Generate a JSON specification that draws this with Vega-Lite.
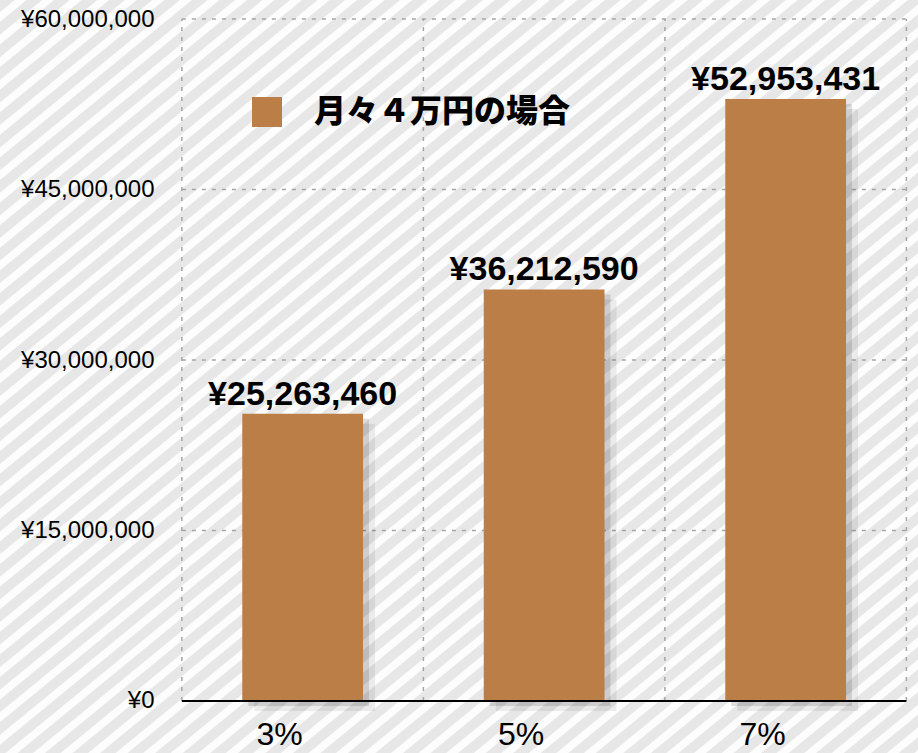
{
  "$schema": "https://vega.github.io/schema/vega-lite/v6.json",
  "width": 918,
  "height": 753,
  "autosize": {"type": "none"},
  "padding": 0,
  "background": "#f1f1f1",
  "config": {
    "view": {"stroke": null},
    "font": "Liberation Sans",
    "locale": {"number": {"decimal": ".", "thousands": ",", "grouping": [3], "currency": ["¥", ""]}}
  },
  "datasets": {
    "main": [
      {"rate": "3%", "amount": 25263460, "series": "月々４万円の場合"},
      {"rate": "5%", "amount": 36212590, "series": "月々４万円の場合"},
      {"rate": "7%", "amount": 52953431, "series": "月々４万円の場合"}
    ],
    "hgrid": [{"g": 15000000}, {"g": 30000000}, {"g": 45000000}, {"g": 60000000}]
  },
  "layer": [
    {
      "data": {"values": [{}]},
      "mark": {
        "type": "rect",
        "fill": {
          "gradient": "linear", "x1": 0, "y1": 0, "x2": 1, "y2": 1,
          "stops": [
{"offset":0,"color":"#e7e7e7"},{"offset":0.0075,"color":"#e7e7e7"},{"offset":0.0085,"color":"#fdfdfd"},{"offset":0.014,"color":"#fdfdfd"},
{"offset":0.015,"color":"#e7e7e7"},{"offset":0.0225,"color":"#e7e7e7"},{"offset":0.0235,"color":"#fdfdfd"},{"offset":0.029,"color":"#fdfdfd"},
{"offset":0.03,"color":"#e7e7e7"},{"offset":0.0375,"color":"#e7e7e7"},{"offset":0.0385,"color":"#fdfdfd"},{"offset":0.044,"color":"#fdfdfd"},
{"offset":0.045,"color":"#e7e7e7"},{"offset":0.0525,"color":"#e7e7e7"},{"offset":0.0535,"color":"#fdfdfd"},{"offset":0.059,"color":"#fdfdfd"},
{"offset":0.06,"color":"#e7e7e7"},{"offset":0.0675,"color":"#e7e7e7"},{"offset":0.0685,"color":"#fdfdfd"},{"offset":0.074,"color":"#fdfdfd"},
{"offset":0.075,"color":"#e7e7e7"},{"offset":0.0825,"color":"#e7e7e7"},{"offset":0.0835,"color":"#fdfdfd"},{"offset":0.089,"color":"#fdfdfd"},
{"offset":0.09,"color":"#e7e7e7"},{"offset":0.0975,"color":"#e7e7e7"},{"offset":0.0985,"color":"#fdfdfd"},{"offset":0.104,"color":"#fdfdfd"},
{"offset":0.105,"color":"#e7e7e7"},{"offset":0.1125,"color":"#e7e7e7"},{"offset":0.1135,"color":"#fdfdfd"},{"offset":0.119,"color":"#fdfdfd"},
{"offset":0.12,"color":"#e7e7e7"},{"offset":0.1275,"color":"#e7e7e7"},{"offset":0.1285,"color":"#fdfdfd"},{"offset":0.134,"color":"#fdfdfd"},
{"offset":0.135,"color":"#e7e7e7"},{"offset":0.1425,"color":"#e7e7e7"},{"offset":0.1435,"color":"#fdfdfd"},{"offset":0.149,"color":"#fdfdfd"},
{"offset":0.15,"color":"#e7e7e7"},{"offset":0.1575,"color":"#e7e7e7"},{"offset":0.1585,"color":"#fdfdfd"},{"offset":0.164,"color":"#fdfdfd"},
{"offset":0.165,"color":"#e7e7e7"},{"offset":0.1725,"color":"#e7e7e7"},{"offset":0.1735,"color":"#fdfdfd"},{"offset":0.179,"color":"#fdfdfd"},
{"offset":0.18,"color":"#e7e7e7"},{"offset":0.1875,"color":"#e7e7e7"},{"offset":0.1885,"color":"#fdfdfd"},{"offset":0.194,"color":"#fdfdfd"},
{"offset":0.195,"color":"#e7e7e7"},{"offset":0.2025,"color":"#e7e7e7"},{"offset":0.2035,"color":"#fdfdfd"},{"offset":0.209,"color":"#fdfdfd"},
{"offset":0.21,"color":"#e7e7e7"},{"offset":0.2175,"color":"#e7e7e7"},{"offset":0.2185,"color":"#fdfdfd"},{"offset":0.224,"color":"#fdfdfd"},
{"offset":0.225,"color":"#e7e7e7"},{"offset":0.2325,"color":"#e7e7e7"},{"offset":0.2335,"color":"#fdfdfd"},{"offset":0.239,"color":"#fdfdfd"},
{"offset":0.24,"color":"#e7e7e7"},{"offset":0.2475,"color":"#e7e7e7"},{"offset":0.2485,"color":"#fdfdfd"},{"offset":0.254,"color":"#fdfdfd"},
{"offset":0.255,"color":"#e7e7e7"},{"offset":0.2625,"color":"#e7e7e7"},{"offset":0.2635,"color":"#fdfdfd"},{"offset":0.269,"color":"#fdfdfd"},
{"offset":0.27,"color":"#e7e7e7"},{"offset":0.2775,"color":"#e7e7e7"},{"offset":0.2785,"color":"#fdfdfd"},{"offset":0.284,"color":"#fdfdfd"},
{"offset":0.285,"color":"#e7e7e7"},{"offset":0.2925,"color":"#e7e7e7"},{"offset":0.2935,"color":"#fdfdfd"},{"offset":0.299,"color":"#fdfdfd"},
{"offset":0.3,"color":"#e7e7e7"},{"offset":0.3075,"color":"#e7e7e7"},{"offset":0.3085,"color":"#fdfdfd"},{"offset":0.314,"color":"#fdfdfd"},
{"offset":0.315,"color":"#e7e7e7"},{"offset":0.3225,"color":"#e7e7e7"},{"offset":0.3235,"color":"#fdfdfd"},{"offset":0.329,"color":"#fdfdfd"},
{"offset":0.33,"color":"#e7e7e7"},{"offset":0.3375,"color":"#e7e7e7"},{"offset":0.3385,"color":"#fdfdfd"},{"offset":0.344,"color":"#fdfdfd"},
{"offset":0.345,"color":"#e7e7e7"},{"offset":0.3525,"color":"#e7e7e7"},{"offset":0.3535,"color":"#fdfdfd"},{"offset":0.359,"color":"#fdfdfd"},
{"offset":0.36,"color":"#e7e7e7"},{"offset":0.3675,"color":"#e7e7e7"},{"offset":0.3685,"color":"#fdfdfd"},{"offset":0.374,"color":"#fdfdfd"},
{"offset":0.375,"color":"#e7e7e7"},{"offset":0.3825,"color":"#e7e7e7"},{"offset":0.3835,"color":"#fdfdfd"},{"offset":0.389,"color":"#fdfdfd"},
{"offset":0.39,"color":"#e7e7e7"},{"offset":0.3975,"color":"#e7e7e7"},{"offset":0.3985,"color":"#fdfdfd"},{"offset":0.404,"color":"#fdfdfd"},
{"offset":0.405,"color":"#e7e7e7"},{"offset":0.4125,"color":"#e7e7e7"},{"offset":0.4135,"color":"#fdfdfd"},{"offset":0.419,"color":"#fdfdfd"},
{"offset":0.42,"color":"#e7e7e7"},{"offset":0.4275,"color":"#e7e7e7"},{"offset":0.4285,"color":"#fdfdfd"},{"offset":0.434,"color":"#fdfdfd"},
{"offset":0.435,"color":"#e7e7e7"},{"offset":0.4425,"color":"#e7e7e7"},{"offset":0.4435,"color":"#fdfdfd"},{"offset":0.449,"color":"#fdfdfd"},
{"offset":0.45,"color":"#e7e7e7"},{"offset":0.4575,"color":"#e7e7e7"},{"offset":0.4585,"color":"#fdfdfd"},{"offset":0.464,"color":"#fdfdfd"},
{"offset":0.465,"color":"#e7e7e7"},{"offset":0.4725,"color":"#e7e7e7"},{"offset":0.4735,"color":"#fdfdfd"},{"offset":0.479,"color":"#fdfdfd"},
{"offset":0.48,"color":"#e7e7e7"},{"offset":0.4875,"color":"#e7e7e7"},{"offset":0.4885,"color":"#fdfdfd"},{"offset":0.494,"color":"#fdfdfd"},
{"offset":0.495,"color":"#e7e7e7"},{"offset":0.5025,"color":"#e7e7e7"},{"offset":0.5035,"color":"#fdfdfd"},{"offset":0.509,"color":"#fdfdfd"},
{"offset":0.51,"color":"#e7e7e7"},{"offset":0.5175,"color":"#e7e7e7"},{"offset":0.5185,"color":"#fdfdfd"},{"offset":0.524,"color":"#fdfdfd"},
{"offset":0.525,"color":"#e7e7e7"},{"offset":0.5325,"color":"#e7e7e7"},{"offset":0.5335,"color":"#fdfdfd"},{"offset":0.539,"color":"#fdfdfd"},
{"offset":0.54,"color":"#e7e7e7"},{"offset":0.5475,"color":"#e7e7e7"},{"offset":0.5485,"color":"#fdfdfd"},{"offset":0.554,"color":"#fdfdfd"},
{"offset":0.555,"color":"#e7e7e7"},{"offset":0.5625,"color":"#e7e7e7"},{"offset":0.5635,"color":"#fdfdfd"},{"offset":0.569,"color":"#fdfdfd"},
{"offset":0.57,"color":"#e7e7e7"},{"offset":0.5775,"color":"#e7e7e7"},{"offset":0.5785,"color":"#fdfdfd"},{"offset":0.584,"color":"#fdfdfd"},
{"offset":0.585,"color":"#e7e7e7"},{"offset":0.5925,"color":"#e7e7e7"},{"offset":0.5935,"color":"#fdfdfd"},{"offset":0.599,"color":"#fdfdfd"},
{"offset":0.6,"color":"#e7e7e7"},{"offset":0.6075,"color":"#e7e7e7"},{"offset":0.6085,"color":"#fdfdfd"},{"offset":0.614,"color":"#fdfdfd"},
{"offset":0.615,"color":"#e7e7e7"},{"offset":0.6225,"color":"#e7e7e7"},{"offset":0.6235,"color":"#fdfdfd"},{"offset":0.629,"color":"#fdfdfd"},
{"offset":0.63,"color":"#e7e7e7"},{"offset":0.6375,"color":"#e7e7e7"},{"offset":0.6385,"color":"#fdfdfd"},{"offset":0.644,"color":"#fdfdfd"},
{"offset":0.645,"color":"#e7e7e7"},{"offset":0.6525,"color":"#e7e7e7"},{"offset":0.6535,"color":"#fdfdfd"},{"offset":0.659,"color":"#fdfdfd"},
{"offset":0.66,"color":"#e7e7e7"},{"offset":0.6675,"color":"#e7e7e7"},{"offset":0.6685,"color":"#fdfdfd"},{"offset":0.674,"color":"#fdfdfd"},
{"offset":0.675,"color":"#e7e7e7"},{"offset":0.6825,"color":"#e7e7e7"},{"offset":0.6835,"color":"#fdfdfd"},{"offset":0.689,"color":"#fdfdfd"},
{"offset":0.69,"color":"#e7e7e7"},{"offset":0.6975,"color":"#e7e7e7"},{"offset":0.6985,"color":"#fdfdfd"},{"offset":0.704,"color":"#fdfdfd"},
{"offset":0.705,"color":"#e7e7e7"},{"offset":0.7125,"color":"#e7e7e7"},{"offset":0.7135,"color":"#fdfdfd"},{"offset":0.719,"color":"#fdfdfd"},
{"offset":0.72,"color":"#e7e7e7"},{"offset":0.7275,"color":"#e7e7e7"},{"offset":0.7285,"color":"#fdfdfd"},{"offset":0.734,"color":"#fdfdfd"},
{"offset":0.735,"color":"#e7e7e7"},{"offset":0.7425,"color":"#e7e7e7"},{"offset":0.7435,"color":"#fdfdfd"},{"offset":0.749,"color":"#fdfdfd"},
{"offset":0.75,"color":"#e7e7e7"},{"offset":0.7575,"color":"#e7e7e7"},{"offset":0.7585,"color":"#fdfdfd"},{"offset":0.764,"color":"#fdfdfd"},
{"offset":0.765,"color":"#e7e7e7"},{"offset":0.7725,"color":"#e7e7e7"},{"offset":0.7735,"color":"#fdfdfd"},{"offset":0.779,"color":"#fdfdfd"},
{"offset":0.78,"color":"#e7e7e7"},{"offset":0.7875,"color":"#e7e7e7"},{"offset":0.7885,"color":"#fdfdfd"},{"offset":0.794,"color":"#fdfdfd"},
{"offset":0.795,"color":"#e7e7e7"},{"offset":0.8025,"color":"#e7e7e7"},{"offset":0.8035,"color":"#fdfdfd"},{"offset":0.809,"color":"#fdfdfd"},
{"offset":0.81,"color":"#e7e7e7"},{"offset":0.8175,"color":"#e7e7e7"},{"offset":0.8185,"color":"#fdfdfd"},{"offset":0.824,"color":"#fdfdfd"},
{"offset":0.825,"color":"#e7e7e7"},{"offset":0.8325,"color":"#e7e7e7"},{"offset":0.8335,"color":"#fdfdfd"},{"offset":0.839,"color":"#fdfdfd"},
{"offset":0.84,"color":"#e7e7e7"},{"offset":0.8475,"color":"#e7e7e7"},{"offset":0.8485,"color":"#fdfdfd"},{"offset":0.854,"color":"#fdfdfd"},
{"offset":0.855,"color":"#e7e7e7"},{"offset":0.8625,"color":"#e7e7e7"},{"offset":0.8635,"color":"#fdfdfd"},{"offset":0.869,"color":"#fdfdfd"},
{"offset":0.87,"color":"#e7e7e7"},{"offset":0.8775,"color":"#e7e7e7"},{"offset":0.8785,"color":"#fdfdfd"},{"offset":0.884,"color":"#fdfdfd"},
{"offset":0.885,"color":"#e7e7e7"},{"offset":0.8925,"color":"#e7e7e7"},{"offset":0.8935,"color":"#fdfdfd"},{"offset":0.899,"color":"#fdfdfd"},
{"offset":0.9,"color":"#e7e7e7"},{"offset":0.9075,"color":"#e7e7e7"},{"offset":0.9085,"color":"#fdfdfd"},{"offset":0.914,"color":"#fdfdfd"},
{"offset":0.915,"color":"#e7e7e7"},{"offset":0.9225,"color":"#e7e7e7"},{"offset":0.9235,"color":"#fdfdfd"},{"offset":0.929,"color":"#fdfdfd"},
{"offset":0.93,"color":"#e7e7e7"},{"offset":0.9375,"color":"#e7e7e7"},{"offset":0.9385,"color":"#fdfdfd"},{"offset":0.944,"color":"#fdfdfd"},
{"offset":0.945,"color":"#e7e7e7"},{"offset":0.9525,"color":"#e7e7e7"},{"offset":0.9535,"color":"#fdfdfd"},{"offset":0.959,"color":"#fdfdfd"},
{"offset":0.96,"color":"#e7e7e7"},{"offset":0.9675,"color":"#e7e7e7"},{"offset":0.9685,"color":"#fdfdfd"},{"offset":0.974,"color":"#fdfdfd"},
{"offset":0.975,"color":"#e7e7e7"},{"offset":0.9825,"color":"#e7e7e7"},{"offset":0.9835,"color":"#fdfdfd"},{"offset":0.989,"color":"#fdfdfd"},
{"offset":0.99,"color":"#e7e7e7"},{"offset":0.9975,"color":"#e7e7e7"},{"offset":0.9985,"color":"#fdfdfd"},{"offset":1,"color":"#fdfdfd"}
          ]
        }
      }
    },
    {
      "data": {"name": "main"},
      "mark": {"type": "rule", "color": "#a6a6a6", "strokeWidth": 1.5, "strokeDash": [4, 6]},
      "encoding": {
        "x": {"field": "rate", "type": "nominal", "bandPosition": 0},
        "y": {"datum": 0, "type": "quantitative"},
        "y2": {"datum": 60000000}
      }
    },
    {
      "data": {"values": [{}]},
      "mark": {"type": "rule", "color": "#a6a6a6", "strokeWidth": 1.5, "strokeDash": [4, 6]},
      "encoding": {
        "x": {"datum": "7%", "type": "nominal", "bandPosition": 1},
        "y": {"datum": 0, "type": "quantitative"},
        "y2": {"datum": 60000000}
      }
    },
    {
      "data": {"name": "hgrid"},
      "mark": {"type": "rule", "color": "#a6a6a6", "strokeWidth": 1.5, "strokeDash": [4, 6]},
      "encoding": {
        "y": {"field": "g", "type": "quantitative"},
        "x": {"datum": "3%", "type": "nominal", "bandPosition": 0},
        "x2": {"datum": "7%", "bandPosition": 1}
      }
    },
    {
      "data": {"name": "main"},
      "mark": {"type": "bar", "color": "#000000", "opacity": 0.07, "xOffset": 12, "yOffset": 10, "width": {"band": 0.5}},
      "encoding": {
        "x": {"field": "rate", "type": "nominal"},
        "y": {"field": "amount", "type": "quantitative"}
      }
    },
    {
      "data": {"name": "main"},
      "mark": {"type": "bar", "color": "#000000", "opacity": 0.12, "xOffset": 6, "yOffset": 5, "width": {"band": 0.5}},
      "encoding": {
        "x": {"field": "rate", "type": "nominal"},
        "y": {"field": "amount", "type": "quantitative"}
      }
    },
    {
      "data": {"name": "main"},
      "mark": {"type": "bar", "width": {"band": 0.5}},
      "encoding": {
        "x": {
          "field": "rate", "type": "nominal", "sort": null,
          "scale": {"type": "band", "paddingInner": 0, "paddingOuter": 0.4006, "align": 0.94},
          "axis": {
            "orient": "bottom", "offset": -52, "title": null, "domain": false, "ticks": false, "zindex": 1,
            "labelAngle": 0, "labelFont": "Liberation Sans", "labelFontSize": 32, "labelColor": "#000000", "labelPadding": 33, "grid": false
          }
        },
        "y": {
          "field": "amount", "type": "quantitative",
          "scale": {"domain": [-4575000, 61672000], "nice": false, "zero": false},
          "axis": {
            "orient": "left", "offset": -182, "title": null, "domain": false, "ticks": false, "grid": false, "zindex": 1,
            "values": [0, 15000000, 30000000, 45000000, 60000000],
            "format": "$,.0f",
            "labelFont": "Liberation Sans", "labelFontSize": 24, "labelColor": "#000000", "labelPadding": 28
          }
        },
        "color": {
          "field": "series", "type": "nominal",
          "scale": {"range": ["#bb7e47"]},
          "legend": {
            "orient": "none", "legendX": 251, "legendY": 96, "title": null, "padding": 0, "zindex": 1,
            "symbolType": "square", "symbolSize": 900, "symbolStrokeWidth": 0, "symbolOpacity": 1,
            "labelFont": "Noto Sans CJK JP", "labelFontSize": 32, "labelFontWeight": 900,
            "labelColor": "#000000", "labelOffset": 31, "labelLimit": 500
          }
        }
      }
    },
    {
      "data": {"values": [{}]},
      "mark": {"type": "rule", "color": "#000000", "strokeWidth": 2},
      "encoding": {
        "y": {"datum": 0, "type": "quantitative"},
        "x": {"datum": "3%", "type": "nominal", "bandPosition": 0},
        "x2": {"datum": "7%", "bandPosition": 1}
      }
    },
    {
      "data": {"name": "main"},
      "mark": {"type": "text", "font": "Liberation Sans", "fontSize": 34, "fontWeight": "bold", "color": "#000000", "baseline": "alphabetic", "dy": -9},
      "encoding": {
        "x": {"field": "rate", "type": "nominal"},
        "y": {"field": "amount", "type": "quantitative"},
        "text": {"field": "amount", "type": "quantitative", "format": "$,"}
      }
    }
  ]
}
